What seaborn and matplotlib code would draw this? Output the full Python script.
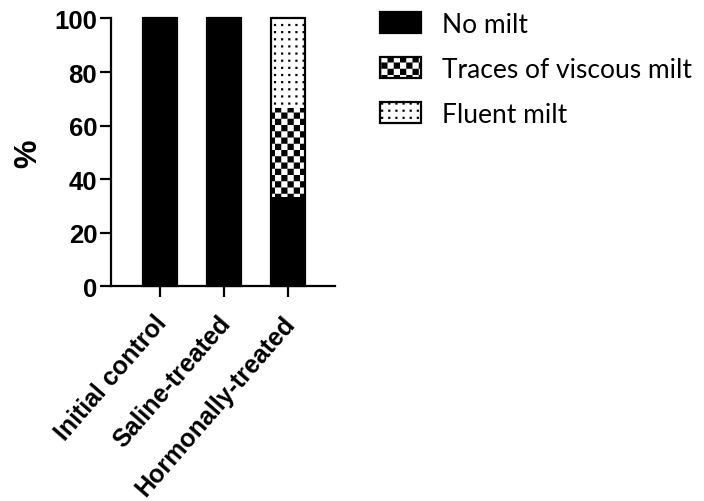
import warnings
import numpy as np
import pandas as pd
import matplotlib
matplotlib.use("Agg")
import matplotlib.pyplot as plt
import matplotlib.hatch as mhatch
import matplotlib.transforms as mtransforms
from matplotlib.path import Path
from matplotlib.patches import Patch
import seaborn as sns

warnings.filterwarnings("ignore")

# ---- data -------------------------------------------------------------
groups = ["Initial control", "Saline-treated", "Hormonally-treated"]
no_milt = [100.0, 100.0, 33.3]
viscous_milt = [0.0, 0.0, 33.3]
fluent_milt = [0.0, 0.0, 33.4]
legend_labels = ["No milt", "Traces of viscous milt", "Fluent milt"]
y_ticks = [0, 20, 40, 60, 80, 100]


# ---- custom fill patterns: 'c' = checkerboard, 'd' = square dot grid ----
class TileHatch(mhatch.HatchPatternBase):
    n_check = 16
    n_dot = 14
    dot = 0.022

    def __init__(self, hatch, density):
        self.checker = "c" in hatch
        self.dots = "d" in hatch
        n = 0
        if self.checker:
            n += (self.n_check * self.n_check // 2) * 5
        if self.dots:
            n += self.n_dot * self.n_dot * 5
        self.num_vertices = n

    def set_vertices_and_codes(self, vertices, codes):
        squares = []
        if self.checker:
            s = 1.0 / self.n_check
            for i in range(self.n_check):
                for j in range(self.n_check):
                    if (i + j) % 2 == 0:
                        squares.append((i * s, j * s, s))
        if self.dots:
            s = 1.0 / self.n_dot
            d = self.dot
            for i in range(self.n_dot):
                for j in range(self.n_dot):
                    squares.append((i * s + (s - d) / 2, j * s + (s - d) / 2, d))
        k = 0
        for x, y, w in squares:
            vertices[k:k + 5] = [(x, y), (x + w, y), (x + w, y + w), (x, y + w), (x, y)]
            codes[k:k + 5] = [Path.MOVETO, Path.LINETO, Path.LINETO,
                              Path.LINETO, Path.CLOSEPOLY]
            k += 5


mhatch._hatch_types.append(TileHatch)

# ---- style ------------------------------------------------------------
sns.set_style("ticks")
plt.rcParams["font.family"] = ["Liberation Sans", "DejaVu Sans"]
plt.rcParams["hatch.linewidth"] = 0.01
for key in ("text.color", "axes.labelcolor", "xtick.color", "ytick.color",
            "axes.edgecolor"):
    plt.rcParams[key] = "black"

df = pd.DataFrame({
    "group": groups,
    "no": no_milt,
    "visc": viscous_milt,
    "fluent": fluent_milt,
})
df["lvl_total"] = df["no"] + df["visc"] + df["fluent"]
df["lvl_visc"] = df["no"] + df["visc"]

fig = plt.figure(figsize=(7.04, 5.02), dpi=100)
ax = fig.add_axes([0.1577, 0.4273, 0.3182, 0.5339])

bar_w = 0.53
layers = [("lvl_total", "white", "d"),
          ("lvl_visc", "white", "c"),
          ("no", "black", None)]
for col, fc, hatch in layers:
    n_before = len(ax.patches)
    sns.barplot(data=df, x="group", y=col, color=fc, width=bar_w,
                edgecolor="black", linewidth=0, saturation=1, ax=ax)
    for p in ax.patches[n_before:]:
        p.set_facecolor(fc)
        if hatch:
            p.set_hatch(hatch)
        p.set_clip_on(False)

# outline of each whole stacked bar
n_before = len(ax.patches)
sns.barplot(data=df, x="group", y="lvl_total", width=bar_w, fill=False,
            color="black", linewidth=1.6, saturation=1, ax=ax)
for p in ax.patches[n_before:]:
    p.set_edgecolor("black")
    p.set_clip_on(False)

# ---- axes -------------------------------------------------------------
ax.set_ylim(0, 100)
ax.set_xlim(-0.758, 2.74)
ax.set_yticks(y_ticks)
ax.set_xlabel("")
ax.set_ylabel("%", fontsize=23, fontweight="bold", labelpad=8, color="black")
sns.despine(ax=ax)
for s in ("left", "bottom"):
    ax.spines[s].set_linewidth(1.6)
    ax.spines[s].set_color("black")
ax.tick_params(axis="both", direction="out", length=8, width=1.6,
               color="black", labelcolor="black", labelsize=18.5, pad=2)
ax.tick_params(axis="x", pad=8)
for lab in ax.get_yticklabels():
    lab.set_fontweight("bold")
ax.set_xticks(range(len(groups)))
ax.set_xticklabels(groups, rotation=49, ha="right", va="top",
                   rotation_mode="anchor", fontweight="bold", fontsize=18,
                   color="black")
shift = mtransforms.ScaledTranslation(-6 / 100, -2 / 100, fig.dpi_scale_trans)
for lab in ax.get_xticklabels():
    lab.set_transform(lab.get_transform() + shift)

# ---- legend -----------------------------------------------------------
handles = [
    Patch(facecolor="black", edgecolor="black", linewidth=1.6),
    Patch(facecolor="white", edgecolor="black", hatch="c", linewidth=1.6),
    Patch(facecolor="white", edgecolor="black", hatch="d", linewidth=1.6),
]
leg = fig.legend(handles, legend_labels, loc="upper left",
                 bbox_to_anchor=(0.540, 0.974), frameon=False,
                 prop={"family": ["Lato", "DejaVu Sans"], "size": 19},
                 handlelength=1.55, handleheight=0.85, handletextpad=0.8,
                 labelspacing=0.75, borderpad=0, borderaxespad=0)
for t in leg.get_texts():
    t.set_color("black")

fig.savefig("out.png", dpi=100)
